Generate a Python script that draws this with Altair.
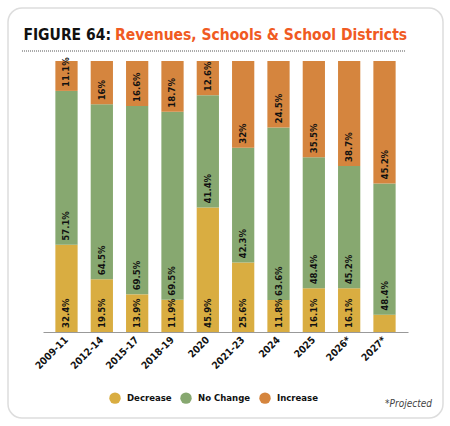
import altair as alt
import pandas as pd

periods = ["2009-11", "2012-14", "2015-17", "2018-19", "2020", "2021-23", "2024", "2025", "2026*", "2027*"]
decrease = [32.4, 19.5, 13.9, 11.9, 45.9, 25.6, 11.8, 16.1, 16.1, 6.4]
no_change = [57.1, 64.5, 69.5, 69.5, 41.4, 42.3, 63.6, 48.4, 45.2, 48.4]
increase = [11.1, 16, 16.6, 18.7, 12.6, 32, 24.5, 35.5, 38.7, 45.2]
series = ["Decrease", "No Change", "Increase"]
colors = ["#d9ad41", "#87a870", "#d5853e"]

rows = []
for i, p in enumerate(periods):
    for k, (s, vals) in enumerate(zip(series, [decrease, no_change, increase])):
        rows.append({"period": p, "series": s, "value": vals[i], "order": k})
df = pd.DataFrame(rows)

FONT = "DejaVu Sans Condensed"
TFONT = "DejaVu Sans Condensed"

base = alt.Chart(df).transform_stack(
    stack="value", groupby=["period"], as_=["v0", "v1"], offset="normalize",
    sort=[alt.SortField("order", order="ascending")]
)

x_enc = alt.X("period:N", sort=periods, title=None,
              scale=alt.Scale(paddingInner=0.37, paddingOuter=0.35),
              axis=alt.Axis(labelAngle=-45, labelAlign="right", labelBaseline="middle",
                            labelFont=FONT, labelFontWeight="bold", labelFontSize=10,
                            labelColor="#111", ticks=False, domainColor="#999",
                            labelPadding=6, zindex=1))

bars = base.mark_bar().encode(
    x=x_enc,
    y=alt.Y("v0:Q", scale=alt.Scale(domain=[0, 1]), axis=None),
    y2="v1:Q",
    color=alt.Color("series:N", sort=series,
                    scale=alt.Scale(domain=series, range=colors),
                    legend=alt.Legend(title=None, orient="none", direction="horizontal",
                                      legendX=66, legendY=331, symbolType="circle",
                                      symbolSize=130, symbolOpacity=1, symbolStrokeWidth=0,
                                      labelFont=FONT, labelFontWeight="bold",
                                      labelFontSize=9.5, labelColor="#111",
                                      columnPadding=8, labelOffset=6)),
)

labels = base.transform_filter("datum.value >= 8").transform_calculate(
    lab="datum.value + '%'"
).mark_text(angle=270, align="left", baseline="middle", dx=4,
            font=FONT, fontWeight="bold", fontSize=9.5, color="#111").encode(
    x=alt.X("period:N", sort=periods),
    y=alt.Y("v0:Q"),
    text="lab:N",
)

border = alt.Chart(pd.DataFrame({"a": [0]})).mark_rect(
    fill="transparent", stroke="#dddddd", strokeWidth=1.5, cornerRadius=14
).encode(x=alt.value(-35), x2=alt.value(400), y=alt.value(-53), y2=alt.value(357))

title_black = alt.Chart(pd.DataFrame({"t": ["FIGURE 64:"]})).mark_text(
    align="right", baseline="alphabetic", font=TFONT, fontWeight="bold", fontSize=15.5, color="#111"
).encode(x=alt.value(68), y=alt.value(-21), text="t:N")

title_orange = alt.Chart(pd.DataFrame({"t": ["Revenues, Schools & School Districts"]})).mark_text(
    align="left", baseline="alphabetic", font=TFONT, fontWeight="bold", fontSize=15.5, color="#f05a22"
).encode(x=alt.value(72), y=alt.value(-21), text="t:N")

rule = alt.Chart(pd.DataFrame({"a": [0]})).mark_rule(
    color="#aaaaaa", strokeWidth=2, strokeDash=[1, 1]
).encode(x=alt.value(-21), x2=alt.value(362), y=alt.value(-10))

note = alt.Chart(pd.DataFrame({"t": ["*Projected"]})).mark_text(
    align="right", baseline="alphabetic", font=FONT, fontStyle="italic", fontSize=10, color="#444"
).encode(x=alt.value(389), y=alt.value(346), text="t:N")

chart = alt.layer(border, rule, title_black, title_orange, bars, labels, note).properties(
    width=365, height=271,
    autosize=alt.AutoSizeParams(type="none"),
    padding={"left": 43, "top": 61, "right": 42, "bottom": 94},
    background="white",
).configure_view(stroke=None)

chart.save("out.html", embed_options={"renderer": "svg", "actions": False})
